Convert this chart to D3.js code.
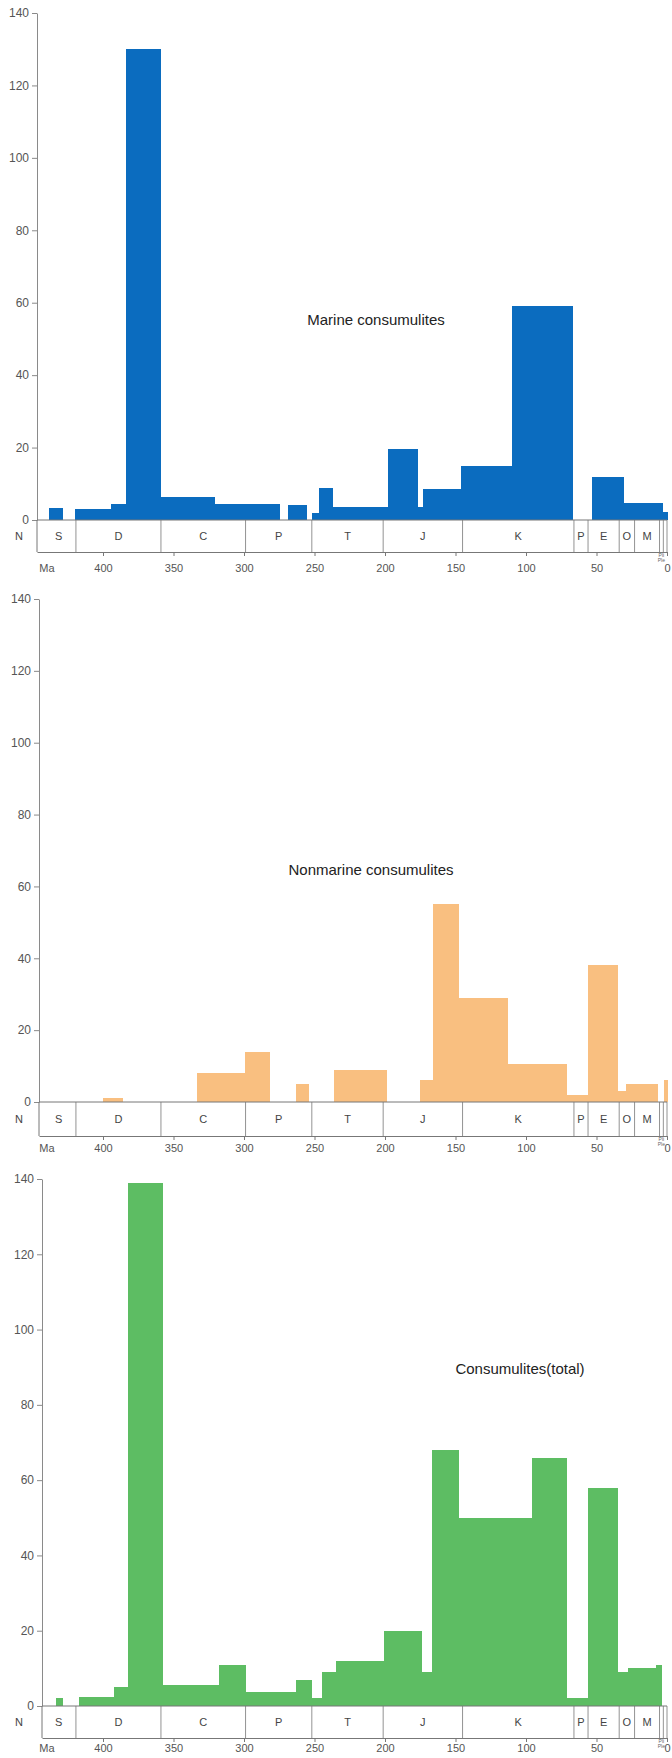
<!DOCTYPE html>
<html lang="en">
  <head>
    <meta charset="utf-8">
    <title>Consumulites through time</title>
    <script type="text/javascript" src="https://cdn.jsdelivr.net/npm/d3@7/dist/d3.min.js"></script>
    <style>
      body { margin: 0; background: #fff; }
      svg { display: block; font-family: "Liberation Sans", Arial, sans-serif; }
    </style>
  </head>
  <body>
    <script type="text/javascript">
      var width = 672;
      var height = 1758;

      // geologic periods (Ma)
      var periodNames = ["S", "D", "C", "P", "T", "J", "K", "P", "E", "O", "M", "", ""];
      var periodStart = [443.8, 419.2, 358.9, 298.9, 251.9, 201.3, 145, 66, 56, 33.9, 23, 5.3, 2.6];
      var periodEnd   = [419.2, 358.9, 298.9, 251.9, 201.3, 145, 66, 56, 33.9, 23, 5.3, 2.6, 0];

      var maTicks = [400, 350, 300, 250, 200, 150, 100, 50, 0];
      var countTicks = [0, 20, 40, 60, 80, 100, 120, 140];

      // marine consumulites
      var marineFrom  = [438, 420, 394, 384, 359, 321, 269, 252, 247, 237, 198, 177, 173, 146, 110, 53, 31, 3.5];
      var marineTo    = [429, 394, 384, 359, 321, 275, 256, 247, 237, 198, 177, 173, 146, 110, 67, 31, 3.5, 0];
      var marineCount = [3.3, 3, 4.5, 130, 6.3, 4.3, 4.2, 2, 8.7, 3.7, 19.5, 3.7, 8.5, 15, 59, 12, 4.7, 2.2];

      // nonmarine consumulites
      var nonmarineFrom  = [400, 333, 299, 263, 236, 175, 166, 148, 113, 71, 56, 35, 29, 2];
      var nonmarineTo    = [386, 299, 282, 254, 199, 166, 148, 113, 71, 56, 35, 29, 7, 0];
      var nonmarineCount = [1, 8, 14, 5, 9, 6, 55, 29, 10.5, 2, 38, 3, 5, 6];

      // total
      var totalFrom  = [433, 417, 392, 382, 358, 318, 299, 263, 252, 245, 235, 201, 174, 167, 148, 96, 71, 56, 35, 28, 8];
      var totalTo    = [429, 392, 382, 358, 318, 299, 263, 252, 245, 235, 201, 174, 167, 148, 96, 71, 56, 35, 28, 8, 4];
      var totalCount = [2, 2.5, 5, 139, 5.6, 11, 3.7, 7, 2, 9, 12, 20, 9, 68, 50, 66, 2, 58, 9, 10, 11];

      var svg = d3.select("body")
            .append("svg")
            .attr("width", width)
            .attr("height", height);

      function drawPanel(p) {
        var g = svg.append("g");
        var xRight = 667;
        var xScale = d3.scaleLinear()
                       .domain([(xRight - p.axisX) / 1.41, 0])
                       .range([p.axisX, xRight]);
        var yScale = d3.scaleLinear()
                       .domain([0, 140])
                       .range([p.y0, p.y140]);

        var bars = p.from.map(function(f, i) {
          return {from: f, to: p.to[i], n: p.count[i]};
        });

        g.selectAll("rect.bar")
         .data(bars)
         .enter()
         .append("rect")
         .attr("class", "bar")
         .attr("x", function(d) { return xScale(d.from); })
         .attr("width", function(d) { return xScale(d.to) - xScale(d.from) + 0.5; })
         .attr("y", function(d) { return yScale(d.n); })
         .attr("height", function(d) { return yScale(0) - yScale(d.n); })
         .attr("fill", p.color)
         .attr("shape-rendering", "crispEdges");

        // y axis
        var yAxis = g.append("g")
         .attr("transform", "translate(" + p.axisX + ",0)")
         .call(d3.axisLeft(yScale).tickValues(countTicks).tickSize(5).tickSizeOuter(0));
        yAxis.select(".domain").attr("stroke", "#8a8a8a");
        yAxis.selectAll(".tick line").attr("stroke", "#8a8a8a");
        yAxis.selectAll("text").attr("fill", "#555").attr("font-size", "12px")
             .attr("font-family", "'Liberation Sans', Arial, sans-serif");

        // period box
        var box = g.append("g");
        box.append("line")
           .attr("x1", p.axisX).attr("x2", xRight)
           .attr("y1", p.y0).attr("y2", p.y0)
           .attr("stroke", "#777");
        box.append("line")
           .attr("x1", p.axisX).attr("x2", p.axisX)
           .attr("y1", p.y0).attr("y2", p.boxBottom)
           .attr("stroke", "#777");
        box.selectAll("line.bound")
           .data(periodEnd)
           .enter()
           .append("line")
           .attr("class", "bound")
           .attr("x1", function(d) { return xScale(d); })
           .attr("x2", function(d) { return xScale(d); })
           .attr("y1", p.y0)
           .attr("y2", p.boxBottom)
           .attr("stroke", "#777")
           .attr("stroke-width", 0.8);
        box.selectAll("text.period")
           .data(periodNames)
           .enter()
           .append("text")
           .attr("class", "period")
           .attr("x", function(d, i) { return (xScale(periodStart[i]) + xScale(periodEnd[i])) / 2; })
           .attr("y", (p.y0 + p.boxBottom) / 2 + 4)
           .attr("text-anchor", "middle")
           .attr("font-size", "11px")
           .attr("fill", "#444")
           .text(function(d) { return d; });
        box.append("text")
           .attr("x", 19).attr("y", (p.y0 + p.boxBottom) / 2 + 4)
           .attr("text-anchor", "middle")
           .attr("font-size", "11px").attr("fill", "#444")
           .text("N");

        // x axis (Ma)
        var xAxis = g.append("g")
         .attr("transform", "translate(0," + p.boxBottom + ")")
         .call(d3.axisBottom(xScale).tickValues(maTicks).tickSize(4).tickPadding(p.pad).tickSizeOuter(0));
        xAxis.select(".domain").attr("stroke", "#777");
        xAxis.selectAll(".tick line").attr("stroke", "#777");
        xAxis.selectAll("text").attr("fill", "#555").attr("font-size", "11px")
             .attr("font-family", "'Liberation Sans', Arial, sans-serif");
        g.append("text")
         .attr("x", 47).attr("y", p.boxBottom + 12 + p.pad)
         .attr("text-anchor", "middle")
         .attr("font-size", "11px").attr("fill", "#555")
         .text("Ma");
        g.append("text")
         .attr("x", xScale(4)).attr("y", p.boxBottom + 5)
         .attr("text-anchor", "middle")
         .attr("font-size", "5px").attr("fill", "#666")
         .text("Pli");
        g.append("text")
         .attr("x", xScale(4)).attr("y", p.boxBottom + 10)
         .attr("text-anchor", "middle")
         .attr("font-size", "5px").attr("fill", "#666")
         .text("Ple");

        // title
        g.append("text")
         .attr("x", p.titleX).attr("y", p.titleY)
         .attr("text-anchor", "middle")
         .attr("font-size", "15px")
         .attr("fill", "#222")
         .text(p.title);
      }

      drawPanel({axisX: 37, y0: 520, y140: 13, boxBottom: 552, pad: 8,
                 from: marineFrom, to: marineTo, count: marineCount,
                 color: "#0b6cbf", title: "Marine consumulites", titleX: 376, titleY: 325});
      drawPanel({axisX: 39, y0: 1102, y140: 599, boxBottom: 1136, pad: 4,
                 from: nonmarineFrom, to: nonmarineTo, count: nonmarineCount,
                 color: "#f9bf80", title: "Nonmarine consumulites", titleX: 371, titleY: 875});
      drawPanel({axisX: 42, y0: 1706, y140: 1179, boxBottom: 1738, pad: 2,
                 from: totalFrom, to: totalTo, count: totalCount,
                 color: "#5dbd63", title: "Consumulites(total)", titleX: 520, titleY: 1374});
    </script>
  </body>
</html>
